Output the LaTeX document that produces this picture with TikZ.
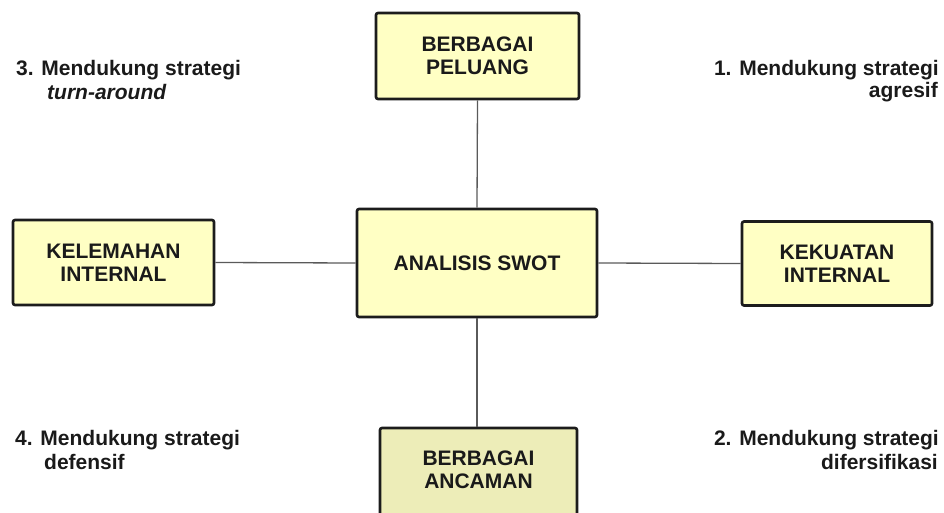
\documentclass[tikz,border=0pt]{standalone}
\usepackage{fontspec}
\setmainfont{Liberation Sans}
\definecolor{boxfill}{HTML}{FFFFC4}
\definecolor{boxfilldark}{HTML}{EDEDB8}
\definecolor{boxline}{HTML}{1C1C1C}
\definecolor{conn}{HTML}{5A5A5A}
\definecolor{txt}{HTML}{1A1A1A}
\begin{document}
\begin{tikzpicture}[x=1pt,y=-1pt,
  box/.style={draw=boxline, fill=boxfill, line width=2.6pt, rounded corners=2pt,
    inner sep=0pt, align=center, text=txt,
    font=\fontsize{21}{23}\selectfont\bfseries},
  lbl/.style={inner sep=0pt, text=txt, font=\fontsize{21}{22}\selectfont\bfseries},
  connector/.style={draw=conn, line width=1.3pt}]
\useasboundingbox (0,0) rectangle (944,513);
\clip (0,0) rectangle (944,513);
% connectors
\node[box, minimum width=240pt, minimum height=108pt] (center) at (477,263) {ANALISIS SWOT};
\node[box, minimum width=203pt, minimum height=86pt] (top) at (477.5,56) {BERBAGAI\\PELUANG};
\node[box, minimum width=201pt, minimum height=85pt] (left) at (113.5,262.5) {KELEMAHAN\\INTERNAL};
\node[box, minimum width=190pt, minimum height=84pt] (right) at (837,263.5) {KEKUATAN\\INTERNAL};
\node[box, fill=boxfilldark, minimum width=197pt, minimum height=100pt] (bottom) at (478.5,478) {};
\node[box, draw=none, fill=none] (bottomtext) at (478.5,470) {BERBAGAI\\ANCAMAN};
\draw[connector] (top.south) -- (center.north);
\draw[connector] (center.south) -- (center.south |- bottom.north);
\draw[connector] (left.east) -- (center.west);
\draw[connector] (center.east) -- (right.west);
% labels
\node[lbl, anchor=west] (l3a) at (16,70) {3. Mendukung strategi};
\node[lbl, anchor=west] (l3b) at (47,92) {\itshape turn-around};
\node[lbl, anchor=east] (l1a) at (939,70) {1. Mendukung strategi};
\node[lbl, anchor=east] (l1b) at (938,92) {agresif};
\node[lbl, anchor=west] (l4a) at (15,440) {4. Mendukung strategi};
\node[lbl, anchor=west] (l4b) at (44,462) {defensif};
\node[lbl, anchor=east] (l2a) at (939,440) {2. Mendukung strategi};
\node[lbl, anchor=east] (l2b) at (938,462) {difersifikasi};
\end{tikzpicture}
\end{document}
